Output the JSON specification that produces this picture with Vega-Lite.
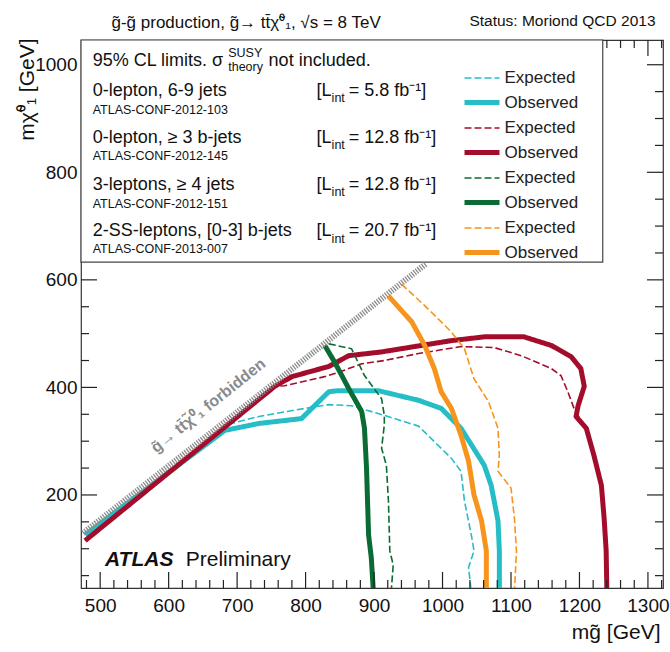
{
  "$schema": "https://vega.github.io/schema/vega-lite/v6.json",
  "width": 582,
  "height": 548,
  "autosize": {"type": "none"},
  "padding": {"left": 81, "top": 40, "right": 7, "bottom": 64},
  "background": "white",
  "config": {
    "font": "Liberation Sans",
    "view": {"stroke": "#333", "strokeWidth": 1.2},
    "axis": {"domain": false, "grid": false, "ticks": false, "labelFont": "Liberation Sans", "titleFont": "Liberation Sans", "titleFontWeight": "normal", "titleColor": "#111", "labelColor": "#111"}
  },
  "datasets": {
    "xMajor": [{"v": 500}, {"v": 600}, {"v": 700}, {"v": 800}, {"v": 900}, {"v": 1000}, {"v": 1100}, {"v": 1200}, {"v": 1300}],
    "xMinor": [{"v": 480}, {"v": 520}, {"v": 540}, {"v": 560}, {"v": 580}, {"v": 620}, {"v": 640}, {"v": 660}, {"v": 680}, {"v": 720}, {"v": 740}, {"v": 760}, {"v": 780}, {"v": 820}, {"v": 840}, {"v": 860}, {"v": 880}, {"v": 920}, {"v": 940}, {"v": 960}, {"v": 980}, {"v": 1020}, {"v": 1040}, {"v": 1060}, {"v": 1080}, {"v": 1120}, {"v": 1140}, {"v": 1160}, {"v": 1180}, {"v": 1220}, {"v": 1240}, {"v": 1260}, {"v": 1280}, {"v": 1320}],
    "xMajorTop": [{"v": 1300}],
    "xMinorTop": [{"v": 1240}, {"v": 1260}, {"v": 1280}, {"v": 1320}],
    "yMajor": [{"v": 200}, {"v": 400}, {"v": 600}, {"v": 800}, {"v": 1000}],
    "yMinor": [{"v": 50}, {"v": 100}, {"v": 150}, {"v": 250}, {"v": 300}, {"v": 350}, {"v": 450}, {"v": 500}, {"v": 550}, {"v": 650}, {"v": 700}, {"v": 750}, {"v": 850}, {"v": 900}, {"v": 950}],
    "yMajorLeft": [{"v": 200}, {"v": 400}, {"v": 600}],
    "yMinorLeft": [{"v": 50}, {"v": 100}, {"v": 150}, {"v": 250}, {"v": 300}, {"v": 350}, {"v": 450}, {"v": 500}, {"v": 550}],
    "curves": [
      {"s": "a-Expected", "i": 0, "x": 478, "y": 128}, {"s": "a-Expected", "i": 1, "x": 692, "y": 333}, {"s": "a-Expected", "i": 2, "x": 732, "y": 346}, {"s": "a-Expected", "i": 3, "x": 799, "y": 361}, {"s": "a-Expected", "i": 4, "x": 834, "y": 368}, {"s": "a-Expected", "i": 5, "x": 867, "y": 366}, {"s": "a-Expected", "i": 6, "x": 915, "y": 348}, {"s": "a-Expected", "i": 7, "x": 965, "y": 328}, {"s": "a-Expected", "i": 8, "x": 1013, "y": 268}, {"s": "a-Expected", "i": 9, "x": 1027, "y": 244}, {"s": "a-Expected", "i": 10, "x": 1032, "y": 189}, {"s": "a-Expected", "i": 11, "x": 1042, "y": 126}, {"s": "a-Expected", "i": 12, "x": 1046, "y": 96}, {"s": "a-Expected", "i": 13, "x": 1038, "y": 65}, {"s": "a-Expected", "i": 14, "x": 1042, "y": 20},
      {"s": "a-Observed", "i": 0, "x": 478, "y": 126}, {"s": "a-Observed", "i": 1, "x": 682, "y": 320}, {"s": "a-Observed", "i": 2, "x": 732, "y": 333}, {"s": "a-Observed", "i": 3, "x": 794, "y": 342}, {"s": "a-Observed", "i": 4, "x": 834, "y": 392}, {"s": "a-Observed", "i": 5, "x": 848, "y": 394}, {"s": "a-Observed", "i": 6, "x": 906, "y": 394}, {"s": "a-Observed", "i": 7, "x": 965, "y": 376}, {"s": "a-Observed", "i": 8, "x": 998, "y": 361}, {"s": "a-Observed", "i": 9, "x": 1027, "y": 324}, {"s": "a-Observed", "i": 10, "x": 1061, "y": 255}, {"s": "a-Observed", "i": 11, "x": 1071, "y": 218}, {"s": "a-Observed", "i": 12, "x": 1081, "y": 152}, {"s": "a-Observed", "i": 13, "x": 1083, "y": 96}, {"s": "a-Observed", "i": 14, "x": 1083, "y": 20},
      {"s": "b-Expected", "i": 0, "x": 478, "y": 115}, {"s": "b-Expected", "i": 1, "x": 755, "y": 402}, {"s": "b-Expected", "i": 2, "x": 769, "y": 403}, {"s": "b-Expected", "i": 3, "x": 828, "y": 420}, {"s": "b-Expected", "i": 4, "x": 848, "y": 428}, {"s": "b-Expected", "i": 5, "x": 882, "y": 444}, {"s": "b-Expected", "i": 6, "x": 915, "y": 450}, {"s": "b-Expected", "i": 7, "x": 965, "y": 463}, {"s": "b-Expected", "i": 8, "x": 1027, "y": 476}, {"s": "b-Expected", "i": 9, "x": 1076, "y": 474}, {"s": "b-Expected", "i": 10, "x": 1115, "y": 459}, {"s": "b-Expected", "i": 11, "x": 1159, "y": 435}, {"s": "b-Expected", "i": 12, "x": 1173, "y": 422}, {"s": "b-Expected", "i": 13, "x": 1183, "y": 392}, {"s": "b-Expected", "i": 14, "x": 1192, "y": 361}, {"s": "b-Expected", "i": 15, "x": 1198, "y": 348}, {"s": "b-Expected", "i": 16, "x": 1210, "y": 324}, {"s": "b-Expected", "i": 17, "x": 1221, "y": 274}, {"s": "b-Expected", "i": 18, "x": 1232, "y": 218}, {"s": "b-Expected", "i": 19, "x": 1236, "y": 157}, {"s": "b-Expected", "i": 20, "x": 1239, "y": 96}, {"s": "b-Expected", "i": 21, "x": 1240, "y": 20},
      {"s": "b-Observed", "i": 0, "x": 478, "y": 115}, {"s": "b-Observed", "i": 1, "x": 755, "y": 402}, {"s": "b-Observed", "i": 2, "x": 780, "y": 420}, {"s": "b-Observed", "i": 3, "x": 834, "y": 439}, {"s": "b-Observed", "i": 4, "x": 863, "y": 459}, {"s": "b-Observed", "i": 5, "x": 911, "y": 466}, {"s": "b-Observed", "i": 6, "x": 969, "y": 478}, {"s": "b-Observed", "i": 7, "x": 1013, "y": 487}, {"s": "b-Observed", "i": 8, "x": 1061, "y": 494}, {"s": "b-Observed", "i": 9, "x": 1119, "y": 494}, {"s": "b-Observed", "i": 10, "x": 1159, "y": 478}, {"s": "b-Observed", "i": 11, "x": 1188, "y": 457}, {"s": "b-Observed", "i": 12, "x": 1202, "y": 435}, {"s": "b-Observed", "i": 13, "x": 1207, "y": 402}, {"s": "b-Observed", "i": 14, "x": 1198, "y": 366}, {"s": "b-Observed", "i": 15, "x": 1195, "y": 346}, {"s": "b-Observed", "i": 16, "x": 1210, "y": 324}, {"s": "b-Observed", "i": 17, "x": 1221, "y": 274}, {"s": "b-Observed", "i": 18, "x": 1232, "y": 218}, {"s": "b-Observed", "i": 19, "x": 1236, "y": 157}, {"s": "b-Observed", "i": 20, "x": 1239, "y": 96}, {"s": "b-Observed", "i": 21, "x": 1240, "y": 20},
      {"s": "c-Expected", "i": 0, "x": 834, "y": 481}, {"s": "c-Expected", "i": 1, "x": 867, "y": 472}, {"s": "c-Expected", "i": 2, "x": 886, "y": 422}, {"s": "c-Expected", "i": 3, "x": 911, "y": 379}, {"s": "c-Expected", "i": 4, "x": 915, "y": 348}, {"s": "c-Expected", "i": 5, "x": 915, "y": 330}, {"s": "c-Expected", "i": 6, "x": 911, "y": 287}, {"s": "c-Expected", "i": 7, "x": 918, "y": 255}, {"s": "c-Expected", "i": 8, "x": 921, "y": 189}, {"s": "c-Expected", "i": 9, "x": 923, "y": 96}, {"s": "c-Expected", "i": 10, "x": 928, "y": 70}, {"s": "c-Expected", "i": 11, "x": 925, "y": 20},
      {"s": "c-Observed", "i": 0, "x": 828, "y": 478}, {"s": "c-Observed", "i": 1, "x": 842, "y": 448}, {"s": "c-Observed", "i": 2, "x": 863, "y": 398}, {"s": "c-Observed", "i": 3, "x": 882, "y": 355}, {"s": "c-Observed", "i": 4, "x": 886, "y": 324}, {"s": "c-Observed", "i": 5, "x": 889, "y": 250}, {"s": "c-Observed", "i": 6, "x": 892, "y": 126}, {"s": "c-Observed", "i": 7, "x": 896, "y": 83}, {"s": "c-Observed", "i": 8, "x": 899, "y": 20},
      {"s": "d-Expected", "i": 0, "x": 940, "y": 592}, {"s": "d-Expected", "i": 1, "x": 974, "y": 552}, {"s": "d-Expected", "i": 2, "x": 1013, "y": 503}, {"s": "d-Expected", "i": 3, "x": 1032, "y": 472}, {"s": "d-Expected", "i": 4, "x": 1046, "y": 416}, {"s": "d-Expected", "i": 5, "x": 1067, "y": 374}, {"s": "d-Expected", "i": 6, "x": 1081, "y": 324}, {"s": "d-Expected", "i": 7, "x": 1083, "y": 274}, {"s": "d-Expected", "i": 8, "x": 1081, "y": 244}, {"s": "d-Expected", "i": 9, "x": 1100, "y": 213}, {"s": "d-Expected", "i": 10, "x": 1105, "y": 157}, {"s": "d-Expected", "i": 11, "x": 1108, "y": 96}, {"s": "d-Expected", "i": 12, "x": 1105, "y": 20},
      {"s": "d-Observed", "i": 0, "x": 921, "y": 570}, {"s": "d-Observed", "i": 1, "x": 955, "y": 522}, {"s": "d-Observed", "i": 2, "x": 974, "y": 478}, {"s": "d-Observed", "i": 3, "x": 988, "y": 435}, {"s": "d-Observed", "i": 4, "x": 998, "y": 392}, {"s": "d-Observed", "i": 5, "x": 1013, "y": 361}, {"s": "d-Observed", "i": 6, "x": 1027, "y": 311}, {"s": "d-Observed", "i": 7, "x": 1038, "y": 263}, {"s": "d-Observed", "i": 8, "x": 1046, "y": 200}, {"s": "d-Observed", "i": 9, "x": 1057, "y": 152}, {"s": "d-Observed", "i": 10, "x": 1064, "y": 96}, {"s": "d-Observed", "i": 11, "x": 1064, "y": 20}
    ],
    "bigText": [
      {"x": 489, "y": 998, "text": "95% CL limits. σ"},
      {"x": 746, "y": 998, "text": "not included."},
      {"x": 489, "y": 942, "text": "0-lepton, 6-9 jets"},
      {"x": 489, "y": 855, "text": "0-lepton, ≥ 3 b-jets"},
      {"x": 489, "y": 767, "text": "3-leptons, ≥ 4 jets"},
      {"x": 489, "y": 681, "text": "2-SS-leptons, [0-3] b-jets"},
      {"x": 816, "y": 942, "text": "[L"}, {"x": 863, "y": 942, "text": "= 5.8 fb⁻¹]"},
      {"x": 816, "y": 855, "text": "[L"}, {"x": 863, "y": 855, "text": "= 12.8 fb⁻¹]"},
      {"x": 816, "y": 767, "text": "[L"}, {"x": 863, "y": 767, "text": "= 12.8 fb⁻¹]"},
      {"x": 816, "y": 681, "text": "[L"}, {"x": 863, "y": 681, "text": "= 20.7 fb⁻¹]"}
    ],
    "smallText": [
      {"x": 489, "y": 909, "text": "ATLAS-CONF-2012-103"},
      {"x": 489, "y": 822, "text": "ATLAS-CONF-2012-145"},
      {"x": 489, "y": 734, "text": "ATLAS-CONF-2012-151"},
      {"x": 489, "y": 649, "text": "ATLAS-CONF-2013-007"},
      {"x": 687, "y": 1015, "text": "SUSY"},
      {"x": 687, "y": 989, "text": "theory"},
      {"x": 838, "y": 930, "text": "int"},
      {"x": 838, "y": 843, "text": "int"},
      {"x": 838, "y": 755, "text": "int"},
      {"x": 838, "y": 669, "text": "int"}
    ]
  },
  "resolve": {"axis": {"x": "independent", "y": "independent"}},
  "layer": [
    {
      "data": {"values": [{"x0": 472, "x1": 1234, "y0": 633, "y1": 1046}]},
      "mark": {"type": "rect", "fill": "white", "stroke": "#444", "strokeWidth": 1.2},
      "encoding": {
        "x": {"field": "x0", "type": "quantitative", "scale": {"domain": [472, 1322], "nice": false, "zero": false},
          "axis": {"orient": "bottom", "values": [500, 600, 700, 800, 900, 1000, 1100, 1200, 1300], "format": "d", "labelFontSize": 19, "labelPadding": 8, "labelFlush": false,
            "title": "mg̃ [GeV]", "titleFontSize": 21, "titleX": 579, "titleY": 50, "titleAlign": "right", "titleBaseline": "alphabetic", "titleAnchor": "end"}},
        "x2": {"field": "x1"},
        "y": {"field": "y0", "type": "quantitative", "scale": {"domain": [27, 1046], "nice": false, "zero": false},
          "axis": {"orient": "left", "values": [200, 400, 600, 800, 1000], "format": "d", "labelFontSize": 19, "labelPadding": 4, "labelFlush": false,
            "title": "mχ̃⁰₁ [GeV]", "titleFontSize": 21, "titleX": -48, "titleY": -2, "titleAngle": -90, "titleAlign": "right", "titleBaseline": "alphabetic", "titleAnchor": "end"}},
        "y2": {"field": "y1"}
      }
    },
    {
      "data": {"name": "curves"},
      "mark": {"type": "line", "clip": true, "strokeJoin": "round", "strokeCap": "butt"},
      "encoding": {
        "x": {"field": "x", "type": "quantitative", "scale": {"domain": [472, 1322], "nice": false, "zero": false}, "axis": null},
        "y": {"field": "y", "type": "quantitative", "scale": {"domain": [27, 1046], "nice": false, "zero": false}, "axis": null},
        "order": {"field": "i", "type": "quantitative"},
        "color": {"field": "s", "type": "nominal",
          "scale": {"domain": ["a-Expected", "a-Observed", "b-Expected", "b-Observed", "c-Expected", "c-Observed", "d-Expected", "d-Observed"],
            "range": ["#26BDC6", "#26BDC6", "#A30D2B", "#A30D2B", "#0B6B35", "#0B6B35", "#F7941D", "#F7941D"]},
          "legend": {"orient": "none", "legendX": 388.5, "legendY": 27, "title": null, "zindex": 2, "symbolType": "M-1.75,0H1.75", "symbolSize": 400, "labelFont": "Liberation Sans", "labelFontSize": 17, "labelColor": "#222", "labelOffset": 10, "rowPadding": 4, "labelExpr": "substring(datum.label, 2)"}},
        "strokeDash": {"field": "s", "type": "nominal",
          "scale": {"domain": ["a-Expected", "a-Observed", "b-Expected", "b-Observed", "c-Expected", "c-Observed", "d-Expected", "d-Observed"],
            "range": [[7, 3], [1, 0], [7, 3], [1, 0], [7, 3], [1, 0], [7, 3], [1, 0]]}},
        "strokeWidth": {"field": "s", "type": "nominal",
          "scale": {"type": "ordinal", "domain": ["a-Expected", "a-Observed", "b-Expected", "b-Observed", "c-Expected", "c-Observed", "d-Expected", "d-Observed"],
            "range": [1.6, 5, 1.6, 5, 1.6, 5, 1.6, 5]}}
      }
    },
    {
      "data": {"values": [{"mg": 475, "mchi": 129}, {"mg": 976, "mchi": 630}]},
      "mark": {"type": "line", "color": "#8c8c8c", "strokeWidth": 6, "strokeDash": [1.3, 1.3], "strokeCap": "butt"},
      "encoding": {
        "x": {"field": "mg", "type": "quantitative", "scale": {"domain": [472, 1322], "nice": false, "zero": false},
          "axis": {"orient": "top", "values": [1300], "labels": false,
            "title": "g̃-g̃ production, g̃→ tt̄χ̃⁰₁, √s = 8 TeV", "titleFontSize": 17, "titleX": 30, "titleY": -13, "titleAlign": "left", "titleAnchor": "start", "titleBaseline": "alphabetic", "titleAngle": 0}},
        "y": {"field": "mchi", "type": "quantitative", "scale": {"domain": [27, 1046], "nice": false, "zero": false}, "axis": null}
      }
    },
    {
      "data": {"name": "bigText"},
      "mark": {"type": "text", "align": "left", "baseline": "alphabetic", "fontSize": 18, "color": "#111", "font": "Liberation Sans"},
      "encoding": {
        "x": {"field": "x", "type": "quantitative", "scale": {"domain": [472, 1322], "nice": false, "zero": false},
          "axis": {"orient": "top", "values": [1300], "labels": false,
            "title": "Status: Moriond QCD 2013", "titleFontSize": 15.5, "titleX": 574, "titleY": -15, "titleAlign": "right", "titleBaseline": "alphabetic", "titleAngle": 0}},
        "y": {"field": "y", "type": "quantitative", "scale": {"domain": [27, 1046], "nice": false, "zero": false}, "axis": null},
        "text": {"field": "text"}
      }
    },
    {
      "data": {"name": "smallText"},
      "mark": {"type": "text", "align": "left", "baseline": "alphabetic", "fontSize": 12.5, "color": "#111", "font": "Liberation Sans"},
      "encoding": {
        "x": {"field": "x", "type": "quantitative", "scale": {"domain": [472, 1322], "nice": false, "zero": false}, "axis": null},
        "y": {"field": "y", "type": "quantitative", "scale": {"domain": [27, 1046], "nice": false, "zero": false}, "axis": null},
        "text": {"field": "text"}
      }
    },
    {
      "data": {"values": [{"x": 507, "y": 68, "text": "ATLAS"}]},
      "mark": {"type": "text", "align": "left", "baseline": "alphabetic", "fontSize": 21, "fontWeight": "bold", "fontStyle": "italic", "color": "#111", "font": "Liberation Sans"},
      "encoding": {
        "x": {"field": "x", "type": "quantitative", "scale": {"domain": [472, 1322], "nice": false, "zero": false}, "axis": null},
        "y": {"field": "y", "type": "quantitative", "scale": {"domain": [27, 1046], "nice": false, "zero": false}, "axis": null},
        "text": {"field": "text"}
      }
    },
    {
      "data": {"values": [{"x": 625, "y": 68, "text": "Preliminary"}]},
      "mark": {"type": "text", "align": "left", "baseline": "alphabetic", "fontSize": 21, "color": "#111", "font": "Liberation Sans"},
      "encoding": {
        "x": {"field": "x", "type": "quantitative", "scale": {"domain": [472, 1322], "nice": false, "zero": false}, "axis": null},
        "y": {"field": "y", "type": "quantitative", "scale": {"domain": [27, 1046], "nice": false, "zero": false}, "axis": null},
        "text": {"field": "text"}
      }
    },
    {
      "data": {"values": [{"x": 658, "y": 366, "text": "g̃→ tt̄χ̃⁰₁ forbidden"}]},
      "mark": {"type": "text", "align": "center", "baseline": "middle", "angle": -38.5, "fontSize": 16, "fontWeight": "bold", "color": "#8a8a8a", "font": "Liberation Sans"},
      "encoding": {
        "x": {"field": "x", "type": "quantitative", "scale": {"domain": [472, 1322], "nice": false, "zero": false}, "axis": null},
        "y": {"field": "y", "type": "quantitative", "scale": {"domain": [27, 1046], "nice": false, "zero": false}, "axis": null},
        "text": {"field": "text"}
      }
    },
    {
      "data": {"name": "xMajor"},
      "mark": {"type": "tick", "orient": "vertical", "size": 32, "thickness": 1.2, "color": "#222", "opacity": 1, "clip": true},
      "encoding": {
        "x": {"field": "v", "type": "quantitative", "scale": {"domain": [472, 1322], "nice": false, "zero": false}, "axis": null},
        "y": {"datum": 27, "type": "quantitative", "scale": {"domain": [27, 1046], "nice": false, "zero": false}, "axis": null}
      }
    },
    {
      "data": {"name": "xMinor"},
      "mark": {"type": "tick", "orient": "vertical", "size": 16, "thickness": 1.2, "color": "#222", "opacity": 1, "clip": true},
      "encoding": {
        "x": {"field": "v", "type": "quantitative", "scale": {"domain": [472, 1322], "nice": false, "zero": false}, "axis": null},
        "y": {"datum": 27, "type": "quantitative", "scale": {"domain": [27, 1046], "nice": false, "zero": false}, "axis": null}
      }
    },
    {
      "data": {"name": "xMajorTop"},
      "mark": {"type": "tick", "orient": "vertical", "size": 32, "thickness": 1.2, "color": "#222", "opacity": 1, "clip": true},
      "encoding": {
        "x": {"field": "v", "type": "quantitative", "scale": {"domain": [472, 1322], "nice": false, "zero": false}, "axis": null},
        "y": {"datum": 1046, "type": "quantitative", "scale": {"domain": [27, 1046], "nice": false, "zero": false}, "axis": null}
      }
    },
    {
      "data": {"name": "xMinorTop"},
      "mark": {"type": "tick", "orient": "vertical", "size": 16, "thickness": 1.2, "color": "#222", "opacity": 1, "clip": true},
      "encoding": {
        "x": {"field": "v", "type": "quantitative", "scale": {"domain": [472, 1322], "nice": false, "zero": false}, "axis": null},
        "y": {"datum": 1046, "type": "quantitative", "scale": {"domain": [27, 1046], "nice": false, "zero": false}, "axis": null}
      }
    },
    {
      "data": {"name": "yMajorLeft"},
      "mark": {"type": "tick", "orient": "horizontal", "size": 32, "thickness": 1.2, "color": "#222", "opacity": 1, "clip": true},
      "encoding": {
        "y": {"field": "v", "type": "quantitative", "scale": {"domain": [27, 1046], "nice": false, "zero": false}, "axis": null},
        "x": {"datum": 472, "type": "quantitative", "scale": {"domain": [472, 1322], "nice": false, "zero": false}, "axis": null}
      }
    },
    {
      "data": {"name": "yMinorLeft"},
      "mark": {"type": "tick", "orient": "horizontal", "size": 16, "thickness": 1.2, "color": "#222", "opacity": 1, "clip": true},
      "encoding": {
        "y": {"field": "v", "type": "quantitative", "scale": {"domain": [27, 1046], "nice": false, "zero": false}, "axis": null},
        "x": {"datum": 472, "type": "quantitative", "scale": {"domain": [472, 1322], "nice": false, "zero": false}, "axis": null}
      }
    },
    {
      "data": {"name": "yMajor"},
      "mark": {"type": "tick", "orient": "horizontal", "size": 32, "thickness": 1.2, "color": "#222", "opacity": 1, "clip": true},
      "encoding": {
        "y": {"field": "v", "type": "quantitative", "scale": {"domain": [27, 1046], "nice": false, "zero": false}, "axis": null},
        "x": {"datum": 1322, "type": "quantitative", "scale": {"domain": [472, 1322], "nice": false, "zero": false}, "axis": null}
      }
    },
    {
      "data": {"name": "yMinor"},
      "mark": {"type": "tick", "orient": "horizontal", "size": 16, "thickness": 1.2, "color": "#222", "opacity": 1, "clip": true},
      "encoding": {
        "y": {"field": "v", "type": "quantitative", "scale": {"domain": [27, 1046], "nice": false, "zero": false}, "axis": null},
        "x": {"datum": 1322, "type": "quantitative", "scale": {"domain": [472, 1322], "nice": false, "zero": false}, "axis": null}
      }
    }
  ]
}
